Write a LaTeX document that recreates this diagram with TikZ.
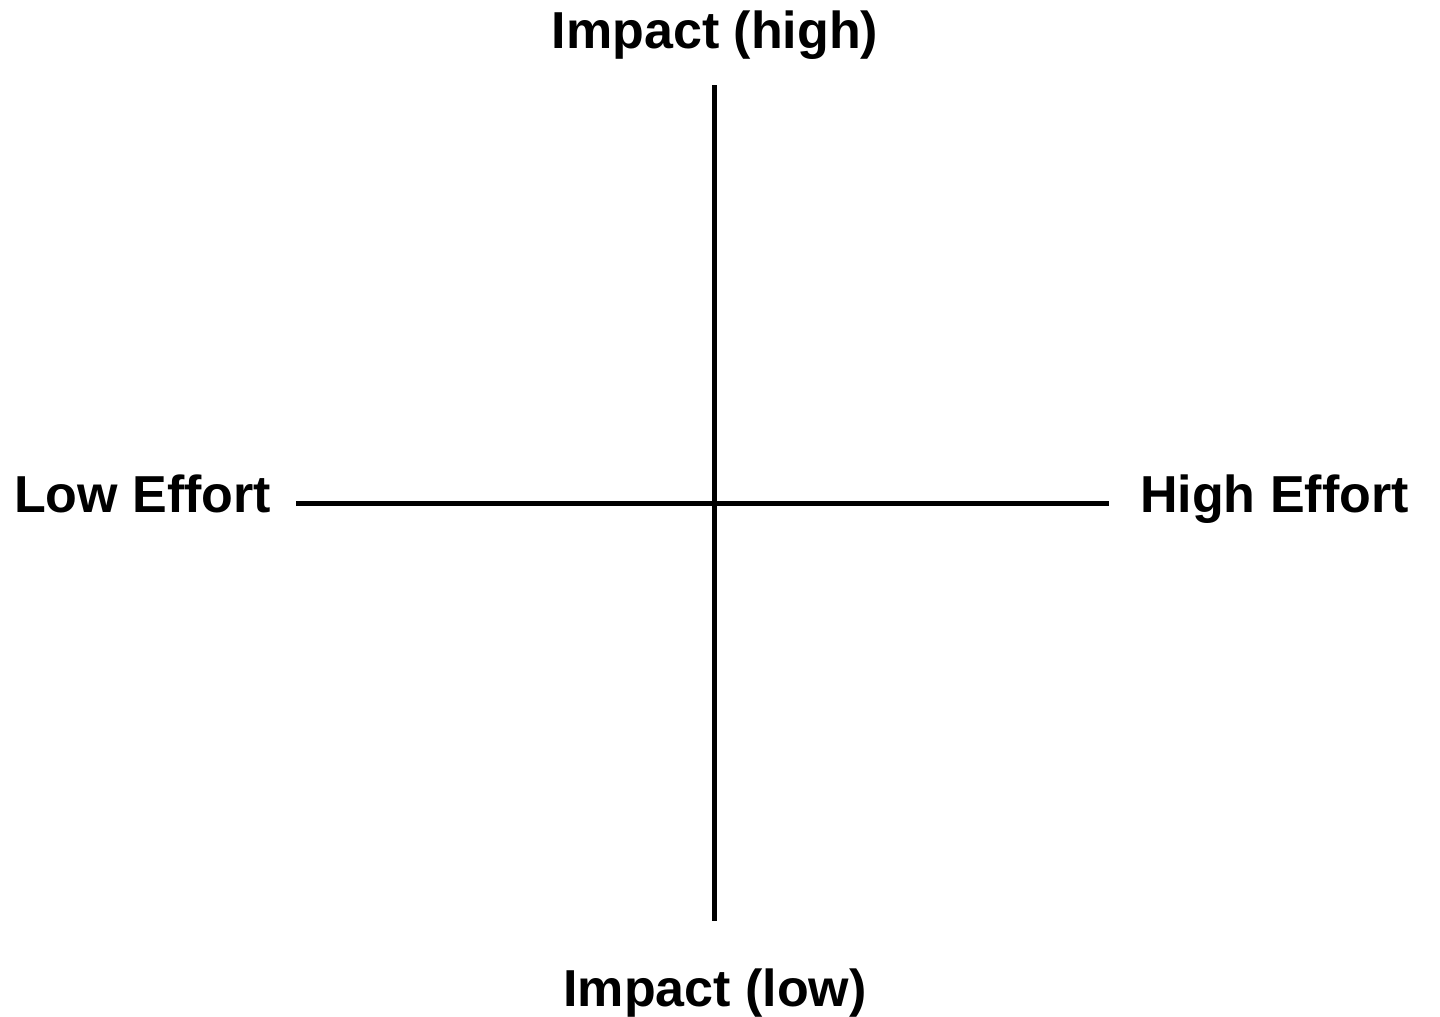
\documentclass[tikz,border=0pt]{standalone}
\usepackage{fontspec}
\setmainfont{Liberation Sans}
\begin{document}
\begin{tikzpicture}[x=1pt,y=-1pt,
  lbl/.style={font=\fontsize{52}{60}\selectfont\bfseries, inner sep=0pt, text=black},
  axis/.style={line width=5pt, black}]
\useasboundingbox (0,0) rectangle (1440,1017);
\coordinate (top) at (714,85);
\coordinate (bot) at (714,921);
\coordinate (left) at (296,503);
\coordinate (right) at (1109,503);
\draw[axis] (top) -- (bot);
\draw[axis] (left) -- (right);
\node[lbl, anchor=base] (ih) at (715,48) {Impact (high)};
\node[lbl, anchor=base] (il) at (715,1006) {Impact (low)};
\node[lbl, anchor=base west] (le) at (14,512) {Low Effort};
\node[lbl, anchor=base west] (he) at (1140,512) {High Effort};
\end{tikzpicture}
\end{document}
